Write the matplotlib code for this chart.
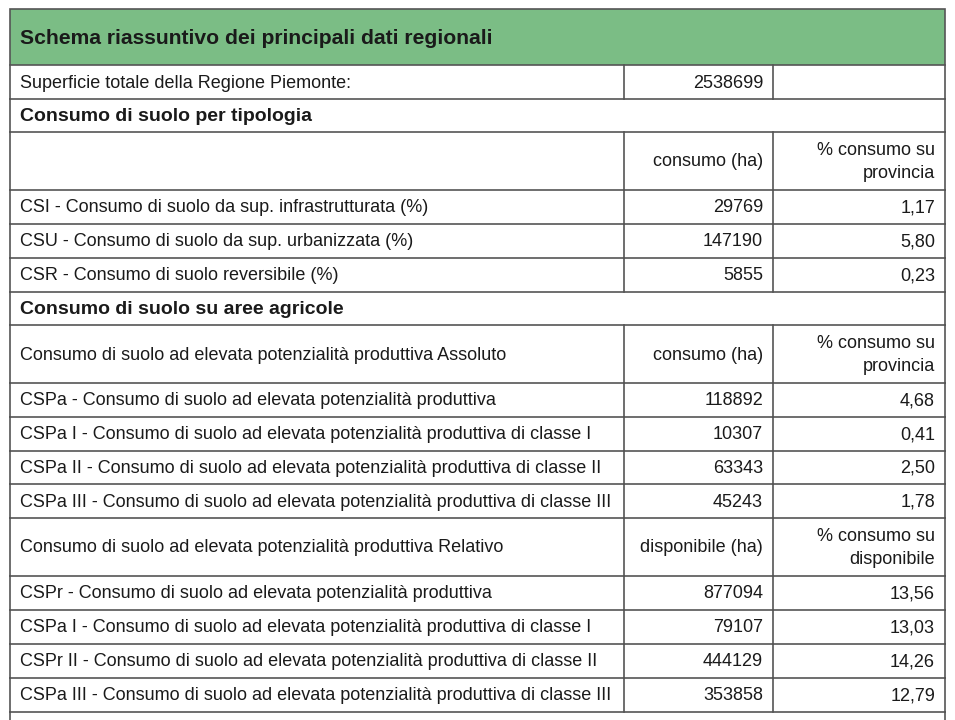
import matplotlib.pyplot as plt

plt.rcParams['font.family'] = ['Liberation Sans', 'DejaVu Sans']

title = "Schema riassuntivo dei principali dati regionali"
superficie_label = "Superficie totale della Regione Piemonte:"
superficie_value = "2538699"

sec1 = "Consumo di suolo per tipologia"
sec1_head = ["", "consumo (ha)", "% consumo su\nprovincia"]
sec1_labels = ["CSI - Consumo di suolo da sup. infrastrutturata (%)",
               "CSU - Consumo di suolo da sup. urbanizzata (%)",
               "CSR - Consumo di suolo reversibile (%)"]
sec1_ha = ["29769", "147190", "5855"]
sec1_pct = ["1,17", "5,80", "0,23"]

sec2 = "Consumo di suolo su aree agricole"
sec2_head = ["Consumo di suolo ad elevata potenzialità produttiva Assoluto",
             "consumo (ha)", "% consumo su\nprovincia"]
sec2_labels = ["CSPa - Consumo di suolo ad elevata potenzialità produttiva",
               "CSPa I - Consumo di suolo ad elevata potenzialità produttiva di classe I",
               "CSPa II - Consumo di suolo ad elevata potenzialità produttiva di classe II",
               "CSPa III - Consumo di suolo ad elevata potenzialità produttiva di classe III"]
sec2_ha = ["118892", "10307", "63343", "45243"]
sec2_pct = ["4,68", "0,41", "2,50", "1,78"]

sec3_head = ["Consumo di suolo ad elevata potenzialità produttiva Relativo",
             "disponibile (ha)", "% consumo su\ndisponibile"]
sec3_labels = ["CSPr - Consumo di suolo ad elevata potenzialità produttiva",
               "CSPa I - Consumo di suolo ad elevata potenzialità produttiva di classe I",
               "CSPr II - Consumo di suolo ad elevata potenzialità produttiva di classe II",
               "CSPa III - Consumo di suolo ad elevata potenzialità produttiva di classe III"]
sec3_ha = ["877094", "79107", "444129", "353858"]
sec3_pct = ["13,56", "13,03", "14,26", "12,79"]

fig = plt.figure(figsize=(9.55, 7.2), dpi=100)
ax = fig.add_axes([0, 0, 1, 1])
ax.set_xlim(0, 955)
ax.set_ylim(720, 0)
ax.axis('off')

L, C1, C2, R = 10, 624, 773, 945
lc = '#555555'
fs = 13
tc = '#1a1a1a'

def hline(y):
    ax.plot([L, R], [y, y], color=lc, lw=1.2)

def cells(y0, y1, texts):
    hline(y1)
    for x in (L, C1, C2, R):
        ax.plot([x, x], [y0, y1], color=lc, lw=1.2)
    ym = (y0 + y1) / 2 + 1
    ax.text(L + 10, ym, texts[0], ha='left', va='center', fontsize=fs, color=tc)
    ax.text(C2 - 10, ym, texts[1], ha='right', va='center', fontsize=fs, color=tc)
    ax.text(R - 10, ym, texts[2], ha='right', va='center', fontsize=fs, color=tc,
            linespacing=1.45)

def section(y0, y1, text):
    hline(y1)
    ax.plot([L, L], [y0, y1], color=lc, lw=1.2)
    ax.plot([R, R], [y0, y1], color=lc, lw=1.2)
    ax.text(L + 10, (y0 + y1) / 2 + 1, text, ha='left', va='center', fontsize=14,
            fontweight='bold', color=tc)

# green title
ax.add_patch(plt.Rectangle((L, 9), R - L, 56, facecolor='#7bbd85', edgecolor=lc, lw=1.2))
ax.text(L + 10, 38, title, ha='left', va='center', fontsize=15.2, fontweight='bold', color=tc)

y = 65
cells(y, 99, [superficie_label, superficie_value, ""]); y = 99
section(y, 132, sec1); y = 132
cells(y, 190, sec1_head); y = 190
for lab, ha, pct in zip(sec1_labels, sec1_ha, sec1_pct):
    cells(y, y + 34, [lab, ha, pct]); y += 34
section(y, 325, sec2); y = 325
cells(y, 383, sec2_head); y = 383
for lab, ha, pct in zip(sec2_labels, sec2_ha, sec2_pct):
    cells(y, y + 33.75, [lab, ha, pct]); y += 33.75
cells(y, 576, sec3_head); y = 576
for lab, ha, pct in zip(sec3_labels, sec3_ha, sec3_pct):
    cells(y, y + 34, [lab, ha, pct]); y += 34
ax.plot([L, L], [y, 725], color=lc, lw=1.2, clip_on=False)
ax.plot([R, R], [y, 725], color=lc, lw=1.2, clip_on=False)

fig.savefig('out.png', dpi=100, facecolor='white')
